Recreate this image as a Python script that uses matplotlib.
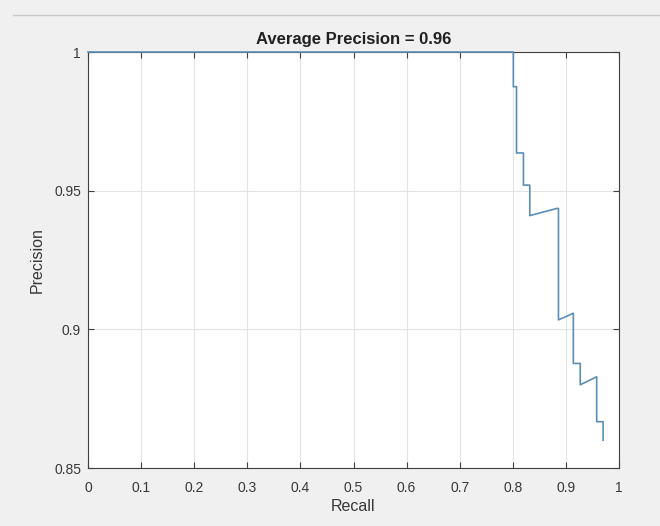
import numpy as np
import matplotlib.pyplot as plt
from matplotlib.lines import Line2D

# precision-recall curve vertices
recall = [0, 0.801, 0.801, 0.807, 0.807, 0.820, 0.820, 0.832, 0.832, 0.883,
          0.886, 0.886, 0.914, 0.914, 0.927, 0.927, 0.958, 0.958, 0.970, 0.970]
precision = [1, 1, 0.9875, 0.9875, 0.9636, 0.9636, 0.952, 0.952, 0.941, 0.9436,
             0.9436, 0.9034, 0.9058, 0.8877, 0.8877, 0.880, 0.8829, 0.8667, 0.8667, 0.860]
avg_precision = 0.96

x_ticks = np.round(np.arange(0, 1.01, 0.1), 1)
x_labels = ["0", "0.1", "0.2", "0.3", "0.4", "0.5", "0.6", "0.7", "0.8", "0.9", "1"]
y_ticks = [0.85, 0.9, 0.95, 1]
y_labels = ["0.85", "0.9", "0.95", "1"]

plt.rcParams['font.family'] = ['Liberation Sans', 'DejaVu Sans']

fig = plt.figure(figsize=(6.6, 5.26), dpi=100, facecolor='#f0f0f0')
ax = fig.add_axes([88 / 660, 1 - 468 / 526, 531 / 660, 416 / 526])
ax.set_facecolor('white')

# zorder above the spines so the precision=1 run shows along the top edge
ax.plot(recall, precision, color='#5b8fb8', linewidth=1.2, zorder=3, clip_on=False)

ax.set_xlim(0, 1)
ax.set_ylim(0.85, 1)
ax.set_xticks(x_ticks)
ax.set_xticklabels(x_labels)
ax.set_yticks(y_ticks)
ax.set_yticklabels(y_labels)
ax.tick_params(direction='in', top=True, right=True, length=4, width=0.8,
               colors='#404040', labelsize=10, labelcolor='#383838')
ax.tick_params(axis='x', pad=9)
ax.tick_params(axis='y', pad=5)
ax.grid(True, color='#e4e4e4', linewidth=0.8)
ax.set_axisbelow(True)
for s in ax.spines.values():
    s.set_color('#404040')
    s.set_linewidth(0.8)

ax.set_title(f"Average Precision = {avg_precision}", fontsize=12,
             fontweight='bold', color='#202020', pad=6)
ax.set_xlabel("Recall", fontsize=11.5, color='#383838', labelpad=3)
ax.set_ylabel("Precision", fontsize=11.5, color='#383838', labelpad=7)

# window border line near the top
fig.add_artist(Line2D([0.02, 1], [1 - 15 / 526, 1 - 15 / 526],
                      color='#c8c8c8', linewidth=1.0))

fig.savefig("out.png", dpi=100, facecolor=fig.get_facecolor())
